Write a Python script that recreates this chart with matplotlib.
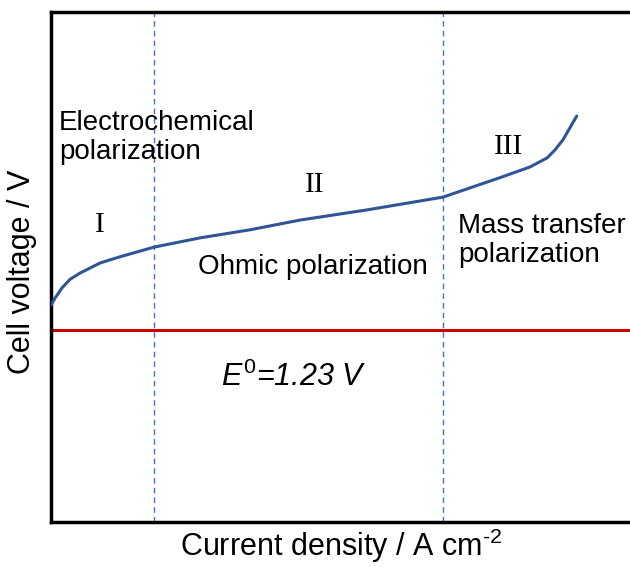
import matplotlib
matplotlib.use("Agg")
import matplotlib.pyplot as plt

plt.rcParams['font.family'] = ['Liberation Sans', 'DejaVu Sans']
plt.rcParams['mathtext.fontset'] = 'custom'
plt.rcParams['mathtext.rm'] = 'Liberation Sans'
plt.rcParams['mathtext.it'] = 'Liberation Sans:italic'

# polarization curve (arbitrary units)
current = [0.0, 0.7, 1.9, 3.3, 5.0, 8.5, 11.9, 17.8, 25.7, 34.4, 43.0, 54.6,
           67.7, 77.5, 82.7, 85.7, 87.0, 88.4, 90.8]
voltage = [42.5, 43.9, 45.9, 47.6, 48.8, 50.8, 52.0, 53.9, 55.7, 57.3, 59.2, 61.2,
           63.7, 67.5, 69.6, 71.4, 72.9, 74.9, 79.6]
e0 = 37.6
region_bounds = [17.8, 67.7]

W, H = 630, 567
fig = plt.figure(figsize=(W/100, H/100), dpi=100)
ax = fig.add_axes([51/W, 1 - 522/H, 1 - 51/W, 510/H])
ax.set_xlim(0, 100)
ax.set_ylim(0, 100)

ax.plot(current, voltage, color='#2F5597', lw=2.2, solid_capstyle='round',
        solid_joinstyle='round', zorder=3)
ax.axhline(e0, color='#CC0000', lw=2.2, zorder=2)
for xb in region_bounds:
    ax.axvline(xb, color='#4472C4', lw=1.0, ls=(0, (4, 3)), zorder=1)

for s in ['left', 'bottom', 'top']:
    ax.spines[s].set_linewidth(2.5)
ax.spines['right'].set_visible(False)
ax.set_xticks([])
ax.set_yticks([])

ax.text(1.4, 75.3, 'Electrochemical\npolarization', fontsize=20, va='center', ha='left',
        linespacing=1.15)
ax.text(25.4, 50.0, 'Ohmic polarization', fontsize=20, va='center', ha='left')
ax.text(70.3, 55.2, 'Mass transfer\npolarization', fontsize=20, va='center', ha='left',
        linespacing=1.15)
ax.text(8.5, 58.2, 'I', family='Liberation Serif', fontsize=21, ha='center', va='center')
ax.text(45.6, 66.0, 'II', family='Liberation Serif', fontsize=21, ha='center', va='center')
ax.text(79.1, 73.5, 'III', family='Liberation Serif', fontsize=21, ha='center', va='center')
ax.text(42.0, 28.4, r'$\mathit{E^{0}}$=1.23 V', style='italic', fontsize=22,
        ha='center', va='center')

fig.text(341/W, 1 - 556/H, r'Current density / A cm$^{\text{-2}}$', fontsize=22,
         ha='center', va='baseline')
fig.text(22/W, 1 - 272/H, 'Cell voltage / V', fontsize=22, rotation=90,
         ha='center', va='center')

fig.savefig('out.png', dpi=100)
